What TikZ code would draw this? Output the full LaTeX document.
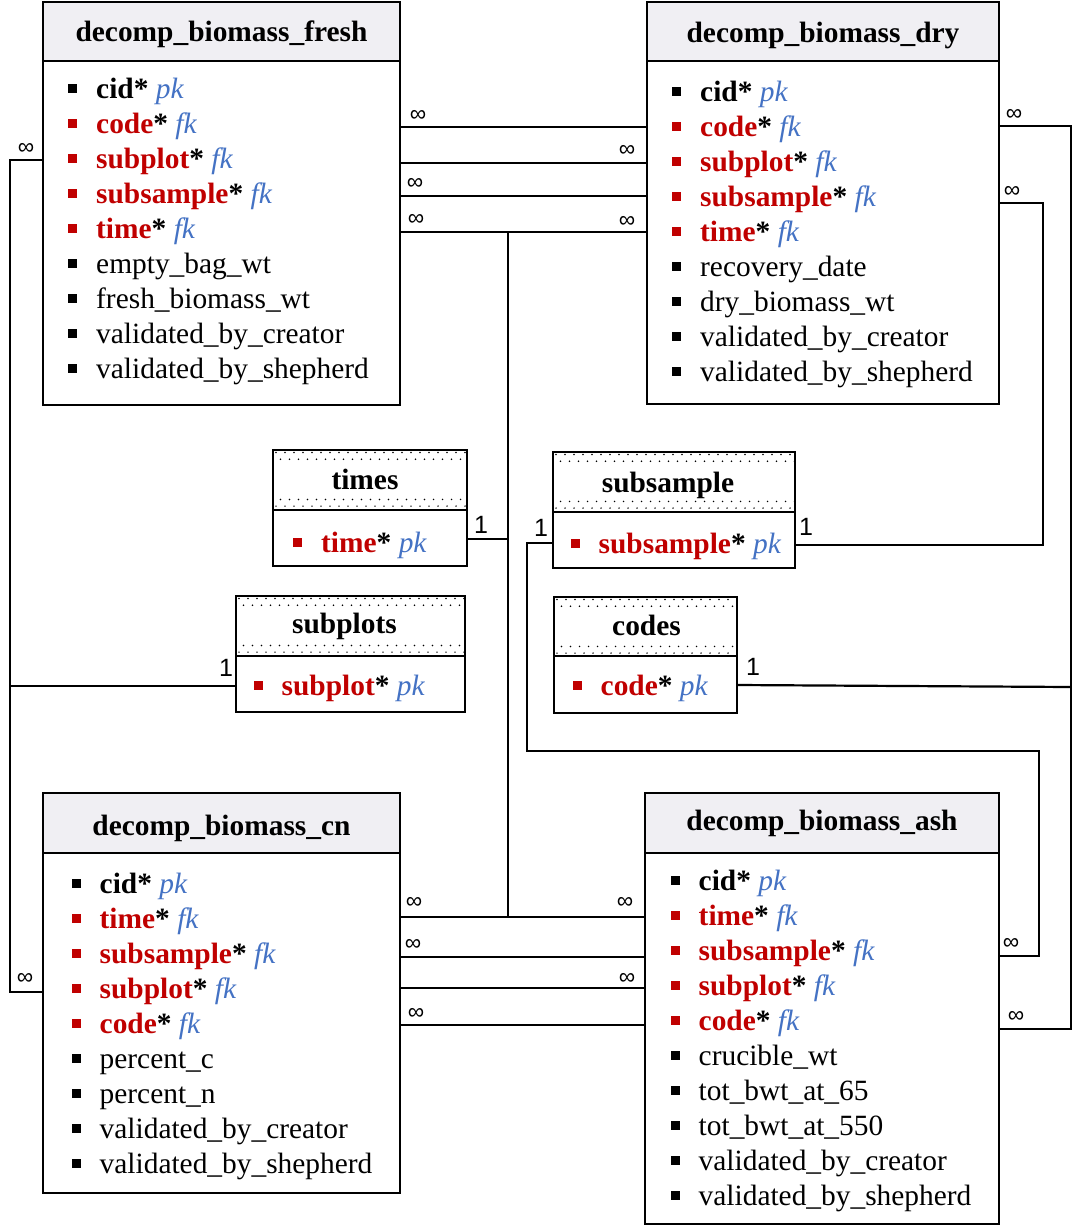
\documentclass[tikz,border=0pt]{standalone}
\usepackage{fontspec}
\setmainfont{Liberation Serif}
\newfontfamily\lblfont{Liberation Sans}
\definecolor{fkred}{RGB}{192,0,0}
\definecolor{keyblue}{RGB}{68,114,196}
\definecolor{hdrgray}{RGB}{240,239,243}
\newcommand{\tf}{\fontsize{29.4pt}{35pt}\selectfont}
\newcommand{\mkPK}[1]{\textbf{#1*} {\itshape\color{keyblue}pk}}
\newcommand{\mkPKr}[1]{\textbf{\color{fkred}#1}\textbf{*} {\itshape\color{keyblue}pk}}
\newcommand{\mkFK}[1]{\textbf{\color{fkred}#1}\textbf{*} {\itshape\color{keyblue}fk}}
\tikzset{
  tblline/.style={line width=2pt, line join=miter},
  conn/.style={line width=2.2pt, line join=miter},
  tblbox/.style={fill=white, draw=none, inner sep=0pt, outer sep=0pt},
  rowtext/.style={anchor=base west, inner sep=0pt, font=\tf},
  titletext/.style={anchor=base, inner sep=0pt, font=\tf\bfseries},
  card/.style={inner sep=0pt, font=\lblfont\fontsize{23pt}{26pt}\selectfont},
  cardone/.style={inner sep=0pt, font=\lblfont\fontsize{25pt}{28pt}\selectfont},
}
% #1 bullet x, #2 baseline, #3 bullet colour, #4 content
\newcommand{\rowitem}[4]{%
  \fill[#3] ({#1-4.5},{#2-14.5}) rectangle ({#1+4.5},{#2-5.5});
  \node[rowtext] at ({#1+23.5},#2) {#4};}
% #1 name #2 L #3 T #4 R #5 HB #6 B #7 title #8 title baseline
\newcommand{\enttbl}[8]{%
  \node[tblbox, minimum width={(#4-#2)*1pt}, minimum height={(#6-#3)*1pt}] (#1) at ({(#2+#4)/2},{(#3+#6)/2}) {};
  \fill[hdrgray] (#2,#3) rectangle (#4,#5);
  \draw[tblline] (#2,#5) -- (#4,#5);
  \node[titletext] (#1-title) at ({(#2+#4)/2},#8) {#7};
  \draw[tblline] (#1.north west) rectangle (#1.south east);}
% #9 title x shift
\newcommand{\lkptbl}[9]{%
  \node[tblbox, minimum width={(#4-#2)*1pt}, minimum height={(#6-#3)*1pt}] (#1) at ({(#2+#4)/2},{(#3+#6)/2}) {};
  \begin{scope}
    \clip (#2,#3) rectangle (#4,#5);
    \foreach \k in {0,...,8}{
      \foreach \i in {0,...,30}{
        \fill ({#2+3+\i*9+mod(\k,2)*4.5},{#3+2.5+\k*6.7}) circle[radius=0.85pt];
      }
    }
  \end{scope}
  \fill[white] ({#2+1.5},{#3+13}) rectangle ({#4-1.5},{#5-15});
  \draw[tblline] (#2,#5) -- (#4,#5);
  \node[titletext] (#1-title) at ({(#2+#4)/2+#9},#8) {#7};
  \draw[tblline] (#1.north west) rectangle (#1.south east);}
\begin{document}
\begin{tikzpicture}[x=1pt,y=-1pt]
\useasboundingbox (0,0) rectangle (1087,1231);

% ---------------- connectors ----------------
\coordinate (frL-sp) at (43,160);
\coordinate (cnL-sp) at (43,992);
\coordinate (spL) at (236,686);
\coordinate (lbus) at (10,686);
\coordinate (frR-code) at (400,127);
\coordinate (dryL-code) at (647,127);
\coordinate (frR-sp) at (400,163);
\coordinate (dryL-sp) at (647,163);
\coordinate (frR-ss) at (400,196);
\coordinate (dryL-ss) at (647,196);
\coordinate (frR-time) at (400,232);
\coordinate (dryL-time) at (647,232);
\coordinate (tbusTop) at (508,232);
\coordinate (tbusBot) at (508,917);
\coordinate (timesR) at (467,539);
\coordinate (tbusMid) at (508,539);
\coordinate (cnR-time) at (400,917);
\coordinate (ashL-time) at (645,917);
\coordinate (cnR-ss) at (400,957);
\coordinate (ashL-ss) at (645,957);
\coordinate (cnR-sp) at (400,988);
\coordinate (ashL-sp) at (645,988);
\coordinate (cnR-code) at (400,1025);
\coordinate (ashL-code) at (645,1025);
\coordinate (dryR-code) at (999,126);
\coordinate (ashR-code) at (999,1029);
\coordinate (codesR) at (737,685);
\coordinate (rbus) at (1071,687);
\coordinate (dryR-ss) at (999,203);
\coordinate (ssR) at (795,545);
\coordinate (ssL) at (553,543);
\coordinate (ashR-ss) at (999,956);

\draw[conn] (frL-sp) -- (10,160) |- (cnL-sp);
\draw[conn] (spL) -- (lbus);
\draw[conn] (frR-code) -- (dryL-code);
\draw[conn] (frR-sp) -- (dryL-sp);
\draw[conn] (frR-ss) -- (dryL-ss);
\draw[conn] (frR-time) -- (dryL-time);
\draw[conn] (tbusTop) -- (tbusBot);
\draw[conn] (timesR) -- (tbusMid);
\draw[conn] (cnR-time) -- (ashL-time);
\draw[conn] (cnR-ss) -- (ashL-ss);
\draw[conn] (cnR-sp) -- (ashL-sp);
\draw[conn] (cnR-code) -- (ashL-code);
\draw[conn] (dryR-code) -- (1071,126) |- (ashR-code);
\draw[conn] (codesR) -- (rbus);
\draw[conn] (dryR-ss) -- (1043,203) |- (ssR);
\draw[conn] (ssL) -- (527,543) -- (527,751) -- (1039,751) |- (ashR-ss);

% cardinality labels
\node[card] (c1) at (26,149) {∞};
\node[card] (c2) at (25,979) {∞};
\node[cardone] (c3) at (226,668) {1};
\node[card] (c4) at (418,116) {∞};
\node[card] (c5) at (627,151) {∞};
\node[card] (c6) at (415,184) {∞};
\node[card] (c7) at (416,220) {∞};
\node[card] (c8) at (627,222) {∞};
\node[cardone] (c9) at (481,525) {1};
\node[card] (c10) at (414,903) {∞};
\node[card] (c11) at (625,903) {∞};
\node[card] (c12) at (413,945) {∞};
\node[card] (c13) at (627,979) {∞};
\node[card] (c14) at (416,1014) {∞};
\node[card] (c15) at (1014,115) {∞};
\node[card] (c16) at (1012,192) {∞};
\node[card] (c17) at (1011,944) {∞};
\node[card] (c18) at (1016,1017) {∞};
\node[cardone] (c19) at (541,528) {1};
\node[cardone] (c20) at (806,527) {1};
\node[cardone] (c21) at (753,667) {1};

% ---------------- tables ----------------
\enttbl{fresh}{43}{2}{400}{61}{405}{decomp\_biomass\_fresh}{42}
\rowitem{72.5}{98}{black}{\mkPK{cid}}
\rowitem{72.5}{133}{fkred}{\mkFK{code}}
\rowitem{72.5}{168}{fkred}{\mkFK{subplot}}
\rowitem{72.5}{203}{fkred}{\mkFK{subsample}}
\rowitem{72.5}{238}{fkred}{\mkFK{time}}
\rowitem{72.5}{273}{black}{empty\_bag\_wt}
\rowitem{72.5}{308}{black}{fresh\_biomass\_wt}
\rowitem{72.5}{343}{black}{validated\_by\_creator}
\rowitem{72.5}{378}{black}{validated\_by\_shepherd}

\enttbl{dry}{647}{2}{999}{61}{404}{decomp\_biomass\_dry}{43}
\rowitem{676.5}{101}{black}{\mkPK{cid}}
\rowitem{676.5}{136}{fkred}{\mkFK{code}}
\rowitem{676.5}{171}{fkred}{\mkFK{subplot}}
\rowitem{676.5}{206}{fkred}{\mkFK{subsample}}
\rowitem{676.5}{241}{fkred}{\mkFK{time}}
\rowitem{676.5}{276}{black}{recovery\_date}
\rowitem{676.5}{311}{black}{dry\_biomass\_wt}
\rowitem{676.5}{346}{black}{validated\_by\_creator}
\rowitem{676.5}{381}{black}{validated\_by\_shepherd}

\lkptbl{times}{273}{450}{467}{510}{566}{times}{489}{-5}
\rowitem{297.5}{552}{fkred}{\mkPKr{time}}

\lkptbl{subsample}{553}{452}{795}{512}{568}{subsample}{492}{-6}
\rowitem{575}{553}{fkred}{\mkPKr{subsample}}

\lkptbl{subplots}{236}{596}{465}{656}{712}{subplots}{633}{-6}
\rowitem{258}{695}{fkred}{\mkPKr{subplot}}

\lkptbl{codes}{554}{597}{737}{656}{713}{codes}{635}{1}
\rowitem{577}{695}{fkred}{\mkPKr{code}}

\enttbl{cn}{43}{793}{400}{853}{1193}{decomp\_biomass\_cn}{835}
\rowitem{76}{893}{black}{\mkPK{cid}}
\rowitem{76}{928}{fkred}{\mkFK{time}}
\rowitem{76}{963}{fkred}{\mkFK{subsample}}
\rowitem{76}{998}{fkred}{\mkFK{subplot}}
\rowitem{76}{1033}{fkred}{\mkFK{code}}
\rowitem{76}{1068}{black}{percent\_c}
\rowitem{76}{1103}{black}{percent\_n}
\rowitem{76}{1138}{black}{validated\_by\_creator}
\rowitem{76}{1173}{black}{validated\_by\_shepherd}

\enttbl{ash}{645}{793}{999}{853}{1224}{decomp\_biomass\_ash}{830}
\rowitem{675}{890}{black}{\mkPK{cid}}
\rowitem{675}{925}{fkred}{\mkFK{time}}
\rowitem{675}{960}{fkred}{\mkFK{subsample}}
\rowitem{675}{995}{fkred}{\mkFK{subplot}}
\rowitem{675}{1030}{fkred}{\mkFK{code}}
\rowitem{675}{1065}{black}{crucible\_wt}
\rowitem{675}{1100}{black}{tot\_bwt\_at\_65}
\rowitem{675}{1135}{black}{tot\_bwt\_at\_550}
\rowitem{675}{1170}{black}{validated\_by\_creator}
\rowitem{675}{1205}{black}{validated\_by\_shepherd}
\end{tikzpicture}
\end{document}
